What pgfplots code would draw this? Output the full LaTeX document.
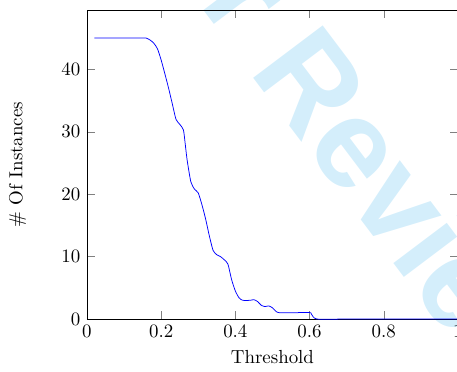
\documentclass[border=0pt]{standalone}
\usepackage{fontspec}
\usepackage{pgfplots}
\pgfplotsset{compat=1.18}
\newfontfamily\wmfont{Liberation Sans}
\definecolor{wmblue}{RGB}{212,238,251}
\definecolor{curveblue}{RGB}{0,0,255}

\begin{document}
\begin{tikzpicture}
% page frame
\useasboundingbox (-46pt,-27.5pt) rectangle (195.8pt,168.8pt);
% draft stamp behind the plot
\node[rotate=-53, anchor=base east, text=wmblue, inner sep=0pt,
      font=\wmfont\bfseries\fontsize{67}{67}\selectfont]
  at (224.8pt,-53.5pt) {Under Review};
\begin{axis}[
  scale only axis,
  width=196.3pt, height=163.5pt,
  xmin=0, xmax=1,
  ymin=0, ymax=49.5,
  xtick={0,0.2,0.4,0.6,0.8,1},
  ytick={0,10,20,30,40},
  xlabel={Threshold},
  ylabel={\# Of Instances},
  every axis y label/.style={at={(axis description cs:-0.187,0.5)}, rotate=90, anchor=center},
]
\addplot[curveblue, smooth, tension=0.4] coordinates {
(0.02,45) (0.05,45) (0.10,45) (0.15,45) (0.16,45) (0.17,44.7)
(0.18,44.2) (0.19,43.3) (0.20,41.5) (0.21,39.3) (0.22,37) (0.23,34.5)
(0.24,32) (0.25,31.2) (0.26,30.3) (0.265,28) (0.27,25.5) (0.28,22)
(0.29,20.8) (0.30,20.2) (0.31,18.3) (0.32,16) (0.33,13.3) (0.34,11)
(0.35,10.3) (0.36,10) (0.37,9.5) (0.38,8.8) (0.39,6.3) (0.40,4.5)
(0.41,3.4) (0.42,3.0) (0.44,3.0) (0.45,3.1) (0.46,2.8) (0.47,2.2)
(0.48,2.0) (0.49,2.1) (0.50,1.8) (0.51,1.2) (0.52,1.0) (0.55,1.0)
(0.60,1.05) (0.605,0.8) (0.62,0) (0.70,0) (0.85,0) (1.0,0)
};
\end{axis}
\end{tikzpicture}
\end{document}
